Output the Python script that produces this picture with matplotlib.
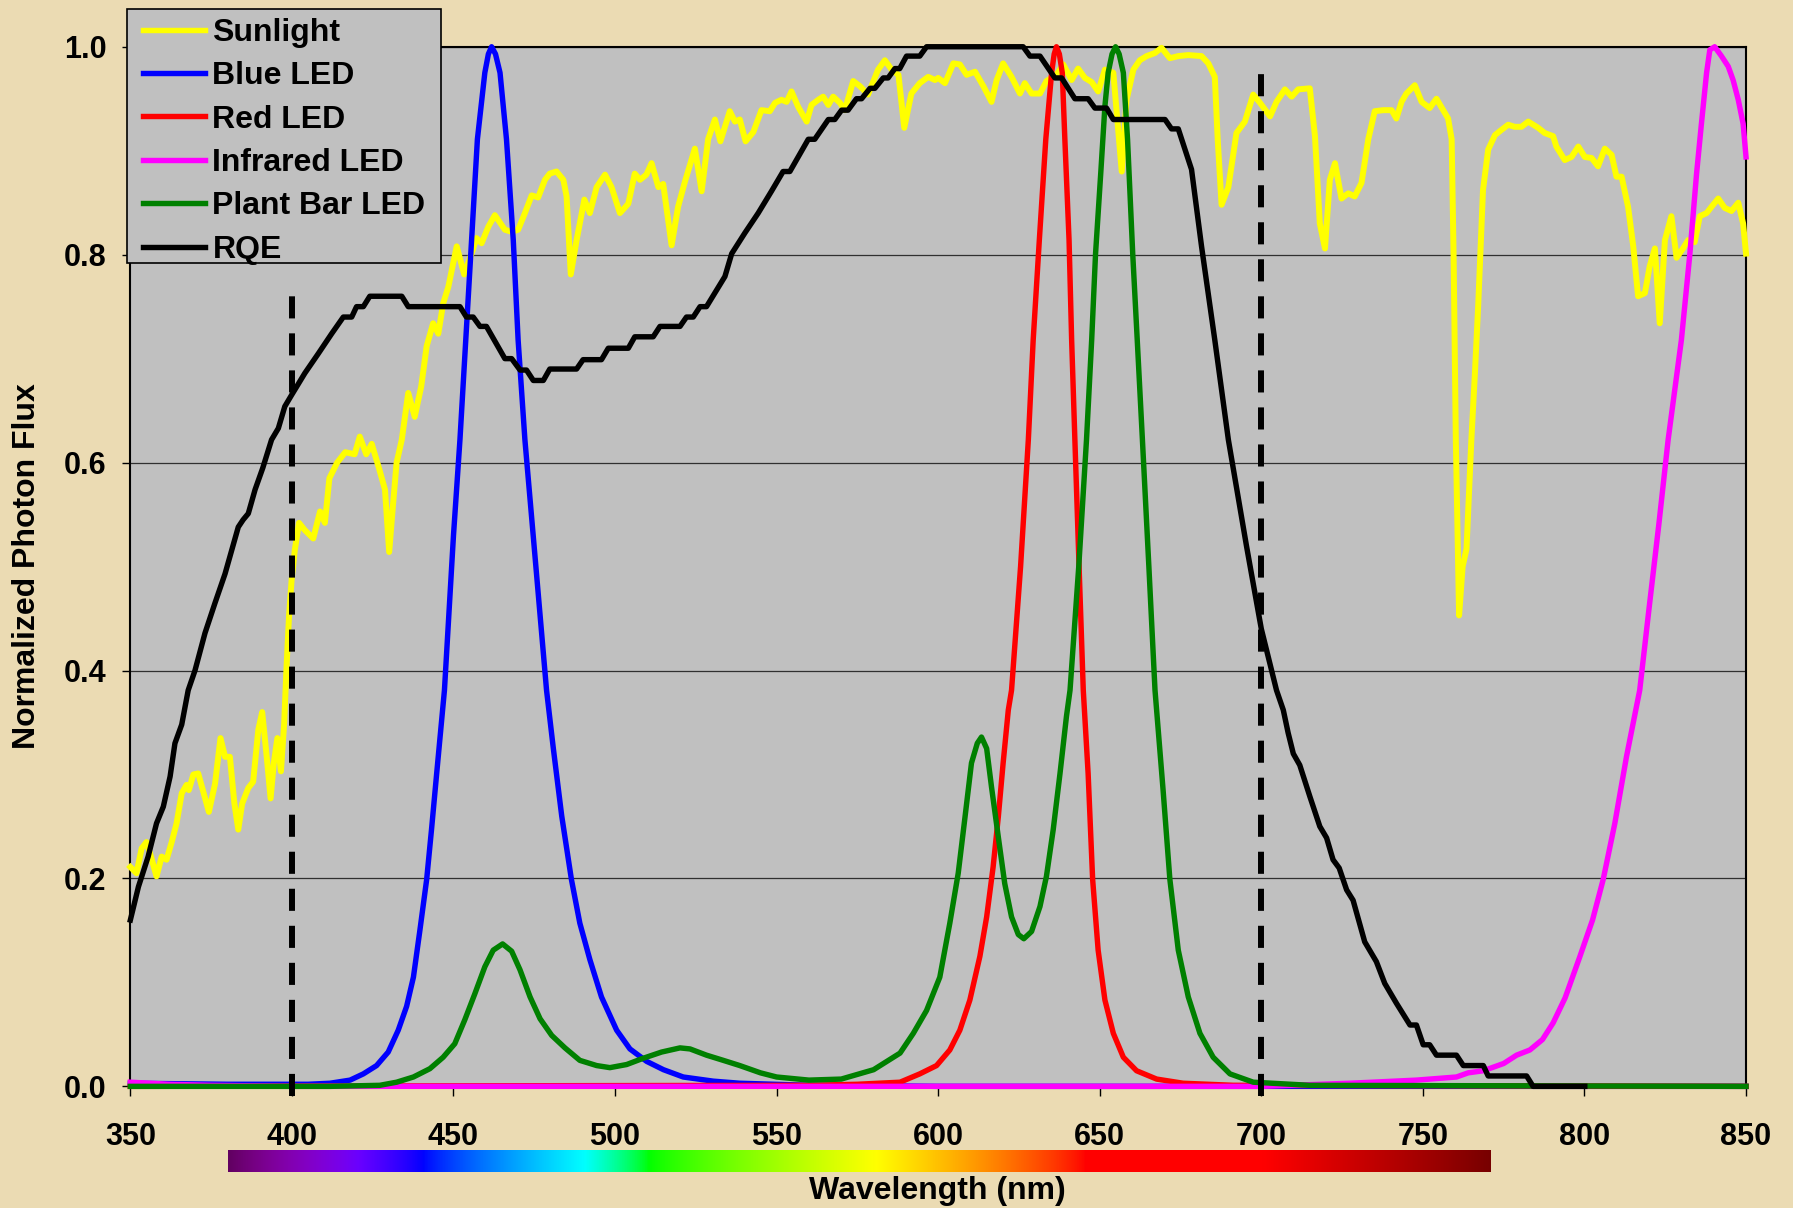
import numpy as np
import matplotlib
matplotlib.use("Agg")
import matplotlib.pyplot as plt
from matplotlib.patches import Rectangle

plt.rcParams['font.family'] = ['Liberation Sans', 'DejaVu Sans']
plt.rcParams['font.weight'] = 'bold'

# ---- data (wavelength nm, normalized photon flux) ----
sun_wl = [350, 351.9, 353.5, 355, 356.1, 358.1, 359.7, 361.2, 362.8, 364.3, 365.9, 367.4, 368.1,
          369.5, 371, 372.6, 374.3, 376.2, 377.9, 379.3, 380.8, 382.2, 383.4, 384.6, 386.5, 388,
          389.6, 390.8, 392.2, 393.4, 394.4, 395.5, 396.6, 397.6, 398.3, 399.1, 399.9, 400.9, 402.2,
          404, 406.6, 408.7, 410.2, 411.6, 414, 416.5, 419.4, 421, 423, 424.7, 427, 428.8, 430.1,
          431.3, 432.4, 434, 436, 438, 440, 441.7, 443.7, 445.3, 446.8, 448.4, 451, 453.3, 455.6,
          457.1, 458.7, 460.8, 462.8, 465.9, 468, 470, 472.1, 474.2, 476.2, 478.3, 479.8, 481.9,
          484, 485, 486.3, 488.1, 490.5, 492.2, 494.3, 496.9, 498.9, 501.5, 504.1, 506.1, 507.7,
          509.7, 511.3, 513.4, 514.9, 517.5, 519.5, 521.6, 524.7, 526.8, 528.8, 530.9, 532.6, 535.5,
          537.1, 538.6, 540.4, 542.8, 545.3, 547.9, 549.5, 551.5, 553.1, 554.6, 556.7, 559.3, 560.8,
          562.9, 564.4, 566, 567.5, 569.6, 571.1, 573.7, 575.8, 578.3, 581.4, 583.5, 585.6, 587.7,
          589.5, 591.7, 594.3, 596.9, 599, 600, 602.1, 604.7, 606.7, 608.8, 611.4, 614, 616.5, 618.1,
          620.1, 622.7, 625.3, 626.8, 628.9, 631.5, 633.5, 636.6, 638.7, 641.3, 643.3, 645.4, 647.5,
          649.5, 651.6, 654.2, 656.8, 658.3, 660.4, 662.4, 664.5, 667.1, 669.1, 671.7, 674.3, 677.4,
          681.5, 683.6, 685.6, 686.5, 687.7, 689.8, 692.3, 694.9, 697.5, 699.6, 702.7, 704.7, 707.3,
          709.4, 711.4, 715, 716.6, 718.1, 719.7, 721.2, 722.8, 724.8, 726.9, 728.9, 731, 733.1,
          735.1, 737.7, 740.3, 741.8, 743.4, 744.9, 747.5, 749.6, 752.1, 754.2, 756.3, 757.8, 758.9,
          759.5, 760.2, 761.2, 762.3, 763.5, 765, 766.1, 767.1, 768.6, 770.2, 772.3, 774.3, 776.4,
          778.4, 780.5, 782.6, 785.7, 787.7, 790.3, 791.3, 793.9, 796, 798.1, 800.1, 802.2, 804.2,
          806.3, 808.4, 809.9, 811.5, 813.5, 815.1, 816.6, 818.7, 820.2, 821.8, 823.3, 824.9, 826.9,
          828.5, 830.5, 832.1, 834.1, 835.7, 837.8, 839.3, 841.4, 843.4, 845.5, 847.6, 849.1, 850]
sun_flux = [0.211, 0.205, 0.229, 0.235, 0.224, 0.202, 0.221, 0.218, 0.235, 0.253, 0.282, 0.290, 0.285,
            0.300, 0.301, 0.283, 0.264, 0.291, 0.335, 0.317, 0.317, 0.272, 0.247, 0.272, 0.287, 0.293,
            0.343, 0.360, 0.317, 0.277, 0.311, 0.335, 0.303, 0.349, 0.401, 0.452, 0.487, 0.516, 0.542,
            0.535, 0.527, 0.553, 0.542, 0.585, 0.600, 0.610, 0.608, 0.625, 0.608, 0.618, 0.594, 0.574, 0.514,
            0.560, 0.600, 0.622, 0.667, 0.644, 0.673, 0.712, 0.734, 0.724, 0.753, 0.769, 0.808, 0.781, 0.801,
            0.816, 0.811, 0.827, 0.838, 0.824, 0.822, 0.824, 0.840, 0.857, 0.855, 0.872, 0.878, 0.880,
            0.872, 0.856, 0.781, 0.814, 0.853, 0.840, 0.865, 0.877, 0.865, 0.840, 0.849, 0.878, 0.872,
            0.877, 0.888, 0.865, 0.868, 0.809, 0.846, 0.870, 0.902, 0.861, 0.911, 0.930, 0.909, 0.938,
            0.928, 0.930, 0.909, 0.918, 0.939, 0.938, 0.946, 0.949, 0.947, 0.957, 0.942, 0.928, 0.944,
            0.949, 0.952, 0.944, 0.952, 0.946, 0.939, 0.967, 0.962, 0.954, 0.978, 0.987, 0.978, 0.973,
            0.922, 0.955, 0.965, 0.971, 0.968, 0.970, 0.965, 0.984, 0.983, 0.973, 0.976, 0.962, 0.947, 0.968,
            0.984, 0.971, 0.955, 0.965, 0.955, 0.955, 0.967, 0.973, 0.983, 0.968, 0.979, 0.970, 0.966,
            0.957, 0.978, 0.975, 0.880, 0.949, 0.978, 0.987, 0.991, 0.994, 0.999, 0.989, 0.991, 0.992,
            0.991, 0.984, 0.971, 0.911, 0.848, 0.865, 0.917, 0.928, 0.954, 0.946, 0.933, 0.947, 0.959,
            0.952, 0.959, 0.960, 0.914, 0.830, 0.806, 0.872, 0.888, 0.854, 0.859, 0.856, 0.869, 0.911,
            0.938, 0.939, 0.939, 0.931, 0.947, 0.955, 0.963, 0.947, 0.941, 0.950, 0.939, 0.931, 0.911,
            0.800, 0.620, 0.453, 0.500, 0.517, 0.622, 0.686, 0.750, 0.862, 0.901, 0.915, 0.920, 0.925,
            0.923, 0.923, 0.928, 0.922, 0.917, 0.914, 0.904, 0.891, 0.894, 0.904, 0.894, 0.893, 0.885,
            0.902, 0.896, 0.875, 0.875, 0.846, 0.808, 0.760, 0.763, 0.789, 0.806, 0.734, 0.814, 0.837,
            0.797, 0.806, 0.814, 0.812, 0.837, 0.840, 0.846, 0.854, 0.845, 0.842, 0.850, 0.830, 0.801]

blue_wl = [350, 380, 405, 411.8, 418, 422.1, 426.2, 429.8, 432.9, 435.5, 437.6, 439.6, 441.7, 443.2,
           444.8, 447.2, 450, 452, 453.8, 455.6, 457.4, 459.7, 460.8, 461.8, 463, 464.4, 466.4, 468.5,
           470, 472.1, 475.5, 478.8, 480.9, 483.5, 486.5, 489.1, 492.2, 495.8, 500.5, 504.6, 509.8,
           515, 521.1, 530.4, 538.6, 560, 600, 850]
blue_flux = [0.003, 0.002, 0.002, 0.003, 0.006, 0.012, 0.020, 0.033, 0.054, 0.077, 0.105, 0.150, 0.199,
             0.247, 0.301, 0.381, 0.530, 0.622, 0.718, 0.814, 0.911, 0.975, 0.993, 1.0, 0.993, 0.975,
             0.911, 0.814, 0.718, 0.622, 0.500, 0.381, 0.325, 0.260, 0.199, 0.157, 0.122, 0.086, 0.054,
             0.036, 0.024, 0.016, 0.009, 0.005, 0.003, 0.001, 0.0, 0.0]

red_wl = [350, 560, 575, 588.2, 594.3, 599.5, 603.6, 606.7, 609.8, 612.9, 615, 617, 618.6, 620.1, 621.7,
          622.7, 625.5, 627.9, 629.4, 631.3, 633.3, 635.1, 635.9, 636.6, 637.5, 638.4, 639.2, 640.5,
          641.3, 642.3, 643.6, 644.9, 646.4, 647.8, 649.5, 651.6, 654.2, 657.3, 661.4, 667.6, 675.8,
          691.3, 850]
red_flux = [0.0, 0.001, 0.002, 0.004, 0.012, 0.020, 0.035, 0.054, 0.083, 0.125, 0.163, 0.211, 0.259,
            0.311, 0.362, 0.381, 0.500, 0.622, 0.718, 0.814, 0.911, 0.975, 0.993, 1.0, 0.993, 0.975,
            0.911, 0.814, 0.718, 0.622, 0.500, 0.381, 0.301, 0.199, 0.131, 0.083, 0.051, 0.028, 0.015,
            0.007, 0.003, 0.001, 0.0]

ir_wl = [350, 356, 362, 375, 400, 700, 727.4, 748, 760.4, 764, 768.7, 775, 779, 783.1, 787, 790.3, 794,
         798.6, 802.5, 805.8, 809.4, 813, 817.1, 820, 823, 825.9, 830, 832.6, 834.7, 836.2, 837.8,
         838.8, 840.3, 842.4, 844.5, 846, 847.6, 849.1, 850]
ir_flux = [0.004, 0.003, 0.002, 0.001, 0.0, 0.0, 0.003, 0.006, 0.009, 0.013, 0.015, 0.022, 0.030, 0.035,
           0.045, 0.061, 0.085, 0.125, 0.160, 0.199, 0.253, 0.317, 0.381, 0.460, 0.540, 0.622, 0.718,
           0.800, 0.878, 0.926, 0.975, 0.997, 1.0, 0.991, 0.981, 0.968, 0.949, 0.926, 0.894]

plant_wl = [350, 411.8, 427.2, 432.4, 437.6, 442.7, 446.8, 450.4, 453.5, 456.6, 459.7, 462.3, 465.2,
            468, 470.6, 473.7, 476.8, 480.4, 484.5, 489.1, 494.3, 498.4, 503.6, 508.7, 514.4, 520.1,
            523.2, 528.3, 533.5, 538.6, 545, 550, 560, 570, 580, 588.2, 592.3, 596.4, 600.5, 603.6,
            606.2, 608.3, 610.3, 612.1, 613.4, 615, 616.5, 618.6, 620.6, 622.7, 624.8, 626.5, 628.9,
            631.5, 633.5, 635.6, 637.7, 639.7, 640.8, 643.5, 645.9, 647.5, 648.7, 650.3, 651.6, 652.6,
            653.8, 654.9, 656, 657.3, 658.6, 660.2, 661.6, 663.2, 665.2, 667.1, 669.6, 671.7, 674.3,
            677.4, 681, 685.1, 690.3, 697.5, 715, 850]
plant_flux = [0.0, 0.0, 0.001, 0.004, 0.009, 0.017, 0.028, 0.041, 0.064, 0.089, 0.115, 0.131, 0.137,
              0.130, 0.112, 0.086, 0.065, 0.049, 0.037, 0.025, 0.020, 0.018, 0.021, 0.027, 0.033, 0.037,
              0.036, 0.030, 0.025, 0.020, 0.013, 0.009, 0.006, 0.007, 0.016, 0.032, 0.051, 0.073, 0.105,
              0.157, 0.205, 0.259, 0.311, 0.330, 0.336, 0.325, 0.288, 0.240, 0.195, 0.163, 0.146, 0.142,
              0.149, 0.173, 0.202, 0.247, 0.301, 0.356, 0.381, 0.500, 0.622, 0.718, 0.801, 0.878, 0.943,
              0.975, 0.993, 1.0, 0.993, 0.975, 0.911, 0.801, 0.718, 0.622, 0.500, 0.381, 0.285, 0.199,
              0.131, 0.086, 0.051, 0.028, 0.012, 0.004, 0.001, 0.0]

rqe_wl = [350, 352.5, 355.5, 358.1, 360.2, 362.3, 363.8, 365.9, 367.9, 370, 373.1, 376.2, 379.3, 383.4,
          384.9, 386.5, 388.6, 391, 393.7, 395.8, 397.8, 399.9, 404, 408.2, 412.3, 415.9, 418.5, 420,
          422.1, 424.1, 434, 436, 452, 454, 456.1, 458.2, 460.2, 465.9, 468, 470.6, 472.6, 474.7,
          477.8, 479.8, 488.1, 490.1, 495.8, 497.9, 504.1, 506.1, 511.8, 513.9, 520.1, 522.1, 524.2,
          526.3, 528.3, 534, 536.1, 540.2, 544.3, 548.4, 552, 554.1, 559.8, 561.8, 566, 568, 570.1,
          572.1, 574.7, 576.3, 578.9, 580.4, 583, 584.5, 586.6, 588.1, 590.2, 594.3, 596.4, 626.3,
          628.4, 631.5, 636.1, 638.2, 642.3, 646.4, 648.5, 652.1, 654.2, 670.2, 672.2, 674.3, 678.4,
          681.5, 685.6, 689.8, 695.4, 700, 704.7, 706.8, 708.3, 709.9, 711.9, 715, 718.1, 720.2, 722.2,
          724.1, 726.4, 728.4, 732, 735.6, 738.2, 741.8, 746, 748, 750.1, 752.1, 754.2, 760.4, 762.5,
          768.7, 770.2, 782.1, 784.1, 800.1]
rqe_val = [0.160, 0.192, 0.221, 0.253, 0.269, 0.298, 0.330, 0.348, 0.381, 0.400, 0.436, 0.465, 0.493,
           0.538, 0.545, 0.551, 0.574, 0.595, 0.622, 0.633, 0.654, 0.665, 0.686, 0.705, 0.724, 0.740,
           0.740, 0.750, 0.750, 0.760, 0.760, 0.750, 0.750, 0.740, 0.740, 0.731, 0.731, 0.700, 0.700,
           0.689, 0.689, 0.679, 0.679, 0.690, 0.690, 0.699, 0.699, 0.710, 0.710, 0.721, 0.721, 0.731,
           0.731, 0.740, 0.740, 0.750, 0.750, 0.779, 0.801, 0.821, 0.840, 0.861, 0.880, 0.880, 0.911,
           0.911, 0.930, 0.930, 0.939, 0.939, 0.950, 0.950, 0.960, 0.960, 0.970, 0.970, 0.979, 0.979,
           0.991, 0.991, 1.0, 1.0, 0.991, 0.991, 0.970, 0.970, 0.950, 0.950, 0.941, 0.941, 0.930, 0.930,
           0.921, 0.921, 0.882, 0.808, 0.718, 0.622, 0.520, 0.440, 0.381, 0.362, 0.340, 0.320, 0.309,
           0.279, 0.250, 0.239, 0.218, 0.210, 0.189, 0.179, 0.139, 0.120, 0.099, 0.080, 0.059, 0.059,
           0.040, 0.040, 0.030, 0.030, 0.020, 0.020, 0.010, 0.010, 0.0, 0.0]

par_edges = [400, 700]
par_tops = [0.76, 0.982]

x_ticks = [350, 400, 450, 500, 550, 600, 650, 700, 750, 800, 850]
y_ticks = [0.0, 0.2, 0.4, 0.6, 0.8, 1.0]


def wavelength_rgb(w):
    if w < 440:
        r, g, b = -(w - 440) / 60.0, 0.0, 1.0
    elif w < 490:
        r, g, b = 0.0, (w - 440) / 50.0, 1.0
    elif w < 510:
        r, g, b = 0.0, 1.0, -(w - 510) / 20.0
    elif w < 580:
        r, g, b = (w - 510) / 70.0, 1.0, 0.0
    elif w < 645:
        r, g, b = 1.0, -(w - 645) / 65.0, 0.0
    else:
        r, g, b = 1.0, 0.0, 0.0
    if w < 420:
        f = 0.3 + 0.7 * (w - 380) / 40.0
    elif w > 700:
        f = 0.3 + 0.7 * (780 - w) / 80.0
    else:
        f = 1.0
    return [(c * f) ** 0.8 for c in (r, g, b)]


fig = plt.figure(figsize=(17.93, 12.08), dpi=100, facecolor='#EBDBB3')
ax = fig.add_axes([0.0727, 0.1007, 0.9011, 0.8606])
ax.set_facecolor('#C0C0C0')

lw = 3.9
ax.plot(sun_wl, sun_flux, color='#FFFF00', lw=4.3, label='Sunlight', clip_on=False, zorder=3)
ax.plot(blue_wl, blue_flux, color='#0000FF', lw=lw, label='Blue LED', clip_on=False, zorder=4)
ax.plot(red_wl, red_flux, color='#FF0000', lw=lw, label='Red LED', clip_on=False, zorder=5)
ax.plot(ir_wl, ir_flux, color='#FF00FF', lw=lw, label='Infrared LED', clip_on=False, zorder=6)
ax.plot(plant_wl, plant_flux, color='#008000', lw=lw, label='Plant Bar LED', clip_on=False, zorder=7)
ax.plot(rqe_wl, rqe_val, color='black', lw=lw, label='RQE', clip_on=False, zorder=8)

for edge, top in zip(par_edges, par_tops):
    ax.plot([edge, edge], [-0.009, top], color='black', lw=4.3,
            linestyle=(0, (3.7, 2.5)), clip_on=False, zorder=9)

ax.set_xlim(350, 850)
ax.set_ylim(0, 1)
ax.set_xticks(x_ticks)
ax.set_yticks(y_ticks)
ax.set_yticklabels(['%.1f' % v for v in y_ticks])
ax.yaxis.grid(True, color='#303030', lw=0.9)
ax.set_axisbelow(True)
ax.tick_params(axis='x', direction='out', length=7, width=1, pad=19, labelsize=22)
ax.tick_params(axis='y', direction='out', length=6, width=1, pad=11, labelsize=22)
for s in ['top', 'right', 'left']:
    ax.spines[s].set_color('black')
    ax.spines[s].set_linewidth(1.5)
ax.spines['bottom'].set_color('#808080')
ax.spines['bottom'].set_linewidth(1.5)

# legend box drawn as its own rectangle so the padding can differ per side
fig.add_artist(Rectangle((0.0711, 0.7823), 0.1748, 0.2103, transform=fig.transFigure,
                         facecolor='#C0C0C0', edgecolor='black', lw=1.2, zorder=4))
leg = fig.legend(loc='upper left', bbox_to_anchor=(0.0711, 0.9985), bbox_transform=fig.transFigure,
                 borderaxespad=0, fontsize=23, handlelength=1.93, handletextpad=0.23,
                 labelspacing=0.42, borderpad=0.5, frameon=False)
leg.set_zorder(5)
for line in leg.get_lines():
    line.set_linewidth(3.9)

fig.text(0.0153, 0.5315, 'Normalized Photon Flux', rotation=90, ha='center', va='center',
         fontsize=23, fontweight='bold')
fig.text(0.523, 0.0078, 'Wavelength (nm)', ha='center', va='baseline', fontsize=23,
         fontweight='bold')

cax = fig.add_axes([0.127, 0.0298, 0.704, 0.0182])
spec = np.array([[wavelength_rgb(w) for w in np.linspace(380, 770, 500)]])
cax.imshow(spec, aspect='auto', extent=(380, 770, 0, 1))
cax.set_axis_off()

fig.savefig('out.png', dpi=100, facecolor=fig.get_facecolor())
